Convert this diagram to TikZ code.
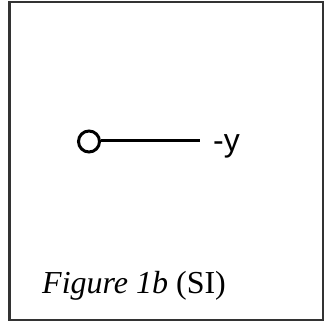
\documentclass[tikz,border=0pt]{standalone}
\usepackage{fontspec}
\setmainfont{Liberation Serif}
\newfontfamily\labelsans{Liberation Sans}
\begin{document}
\begin{tikzpicture}[x=1pt,y=1pt,
  framebox/.style={draw=black!80,line width=2.4pt},
  atom/.style={circle,draw,line width=3pt,minimum size=21pt,inner sep=0pt},
  bond/.style={line width=3.4pt},
  axislabel/.style={anchor=base west,inner sep=0pt,font=\labelsans\fontsize{32}{36}\selectfont},
  caption/.style={anchor=base west,inner sep=0pt,font=\fontsize{32}{38}\selectfont}]
\useasboundingbox (0,0) rectangle (324,325);
\draw[framebox] (9.5,5) rectangle (322.8,323);
\node[atom] (o) at (89,183.5) {};
\coordinate (e) at (200,184.5);
\draw[bond] (o.east |- e) -- (e);
\node[axislabel] (lab) at (213,173) {-y};
\node[caption] (cap) at (42,31) {\textit{Figure 1b} (SI)};
\end{tikzpicture}
\end{document}
